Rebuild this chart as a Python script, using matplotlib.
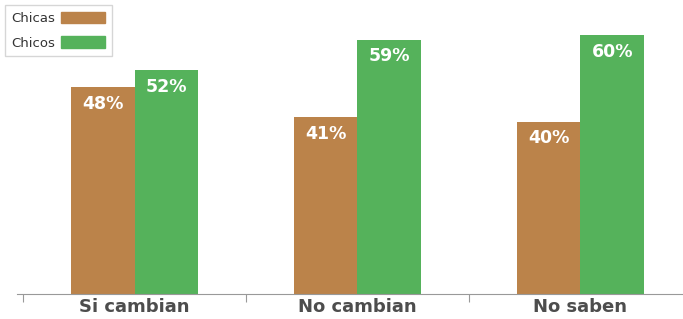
import matplotlib
matplotlib.use("Agg")
import matplotlib.pyplot as plt
import numpy as np
from matplotlib.patches import Patch

categories = ["Si cambian", "No cambian", "No saben"]
chicas = [48, 41, 40]
chicos = [52, 59, 60]
series_names = ["Chicas", "Chicos"]
colors = ["#BB834A", "#55B25B"]

fig = plt.figure(figsize=(6.83, 3.19), dpi=100)
ax = fig.add_axes([17/683, 25/319, 666/683, 294/319])

x = np.arange(len(categories))
w = 0.285
b1 = ax.bar(x - w/2, chicas, w, color=colors[0])
b2 = ax.bar(x + w/2, chicos, w, color=colors[1])

for bars, vals in ((b1, chicas), (b2, chicos)):
    for r, v in zip(bars, vals):
        ax.text(r.get_x() + r.get_width()/2, v - 3.9, f"{v}%", ha="center", va="center",
                color="white", fontsize=12.5, fontweight="bold")

ax.set_xlim(-0.527, 2.46)
ax.set_ylim(0, 68.2)
for s in ["top", "right", "left"]:
    ax.spines[s].set_visible(False)
ax.spines["bottom"].set_color("#999999")
ax.set_yticks([])
ax.set_xticks([-0.5, 0.5, 1.5])
ax.set_xticklabels([])
ax.tick_params(axis="x", length=6, color="#999999", direction="out")
for i, c in enumerate(categories):
    ax.text(i, -1.0, c, ha="center", va="top", fontsize=13, fontweight="bold",
            color="#4d4d4d", clip_on=False)

handles = [Patch(color=colors[0]), Patch(color=colors[1])]
leg = fig.legend(handles, series_names, loc="upper left", bbox_to_anchor=(5/683, 1 - 5/319),
                 borderaxespad=0, fontsize=9.5, frameon=True, fancybox=False, edgecolor="#cccccc",
                 markerfirst=False, handlelength=3.3, handleheight=1.0, borderpad=0.5,
                 labelspacing=0.85, handletextpad=0.45)
for t in leg.get_texts():
    t.set_color("#333333")

fig.savefig("out.png", dpi=100)
